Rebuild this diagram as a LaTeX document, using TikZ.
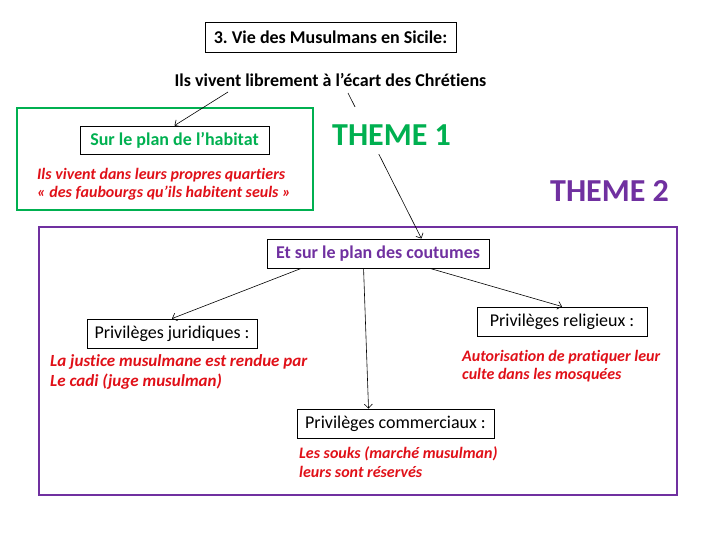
\documentclass[tikz,border=0pt]{standalone}
\usepackage{fontspec}
\setmainfont{Carlito}[Ligatures={NoCommon}]
\usepackage{tikz}
\usetikzlibrary{arrows.meta}
\definecolor{themegreen}{HTML}{00B050}
\definecolor{themepurple}{HTML}{7030A0}
\definecolor{notered}{RGB}{224,16,24}
\frenchspacing

\begin{document}
\begin{tikzpicture}[x=1pt, y=-1pt, font=\fontsize{18}{20}\selectfont,
  box/.style={draw=black, line width=0.9pt, minimum height=29pt, inner sep=2pt},
  head/.style={box, font=\fontsize{18}{20}\selectfont\bfseries},
  note/.style={text=notered, font=\fontsize{16}{18}\selectfont\bfseries\itshape,
               align=left, anchor=west, inner sep=0pt},
  theme/.style={fill=white, font=\fontsize{32}{36}\selectfont\bfseries, inner xsep=2pt},
  zone/.style={line width=2pt},
  arr/.style={-{Straight Barb[length=4pt, width=8pt]}, line width=0.6pt}
]
\useasboundingbox (0,0) rectangle (728,546);

\node[head, minimum width=251pt, minimum height=30pt] (title) at (330.5,37) {3. Vie des Musulmans en Sicile:};
\node[font=\fontsize{18}{20}\selectfont\bfseries] (sub) at (330.5,80) {Ils vivent librement à l’écart des Chrétiens};
\coordinate (s1) at (228,92);
\coordinate (s2) at (348,93);

\draw[zone, themegreen] (17,108) rectangle (313,210);
\draw[zone, themepurple] (39,227) rectangle (677,495);

\node[head, minimum width=189pt, minimum height=28pt, text=themegreen] (habitat) at (174.5,140) {Sur le plan de l’habitat};
\node[note] (habnote) at (37,184) {Ils vivent dans leurs propres quartiers\\« des faubourgs qu’ils habitent seuls »};

\node[head, minimum width=222pt, text=themepurple] (coutumes) at (378,253.5) {Et sur le plan des coutumes};
\node[box, minimum width=170pt] (jur) at (172,333.5) {Privilèges juridiques :};
\node[box, minimum width=170pt] (rel) at (562,321.5) {Privilèges religieux :};
\node[box, minimum width=197pt] (com) at (395.5,423.5) {Privilèges commerciaux :};

\node[note, font=\fontsize{17}{20}\selectfont\bfseries\itshape] (jurnote) at (50,372) {La justice musulmane est rendue par\\Le cadi (juge musulman)};
\node[note] (relnote) at (462,366) {Autorisation de pratiquer leur\\culte dans les mosquées};
\node[note, font=\fontsize{16}{19}\selectfont\bfseries\itshape] (comnote) at (299,462.5) {Les souks (marché musulman)\\leurs sont réservés};

\draw[arr] (s1) -- (habitat.north);
\draw[arr] (s2) -- (coutumes.19);
\foreach \a/\b in {191/jur.north, -16/rel.north, -134/com.151}
  \draw[arr] (coutumes.\a) -- (\b);

\node[theme, text=themegreen, text height=29pt, minimum height=47pt] (theme1) at (391.5,130.5) {THEME 1};
\node[theme, text=themepurple] (theme2) at (609.5,191) {THEME 2};
\end{tikzpicture}
\end{document}
